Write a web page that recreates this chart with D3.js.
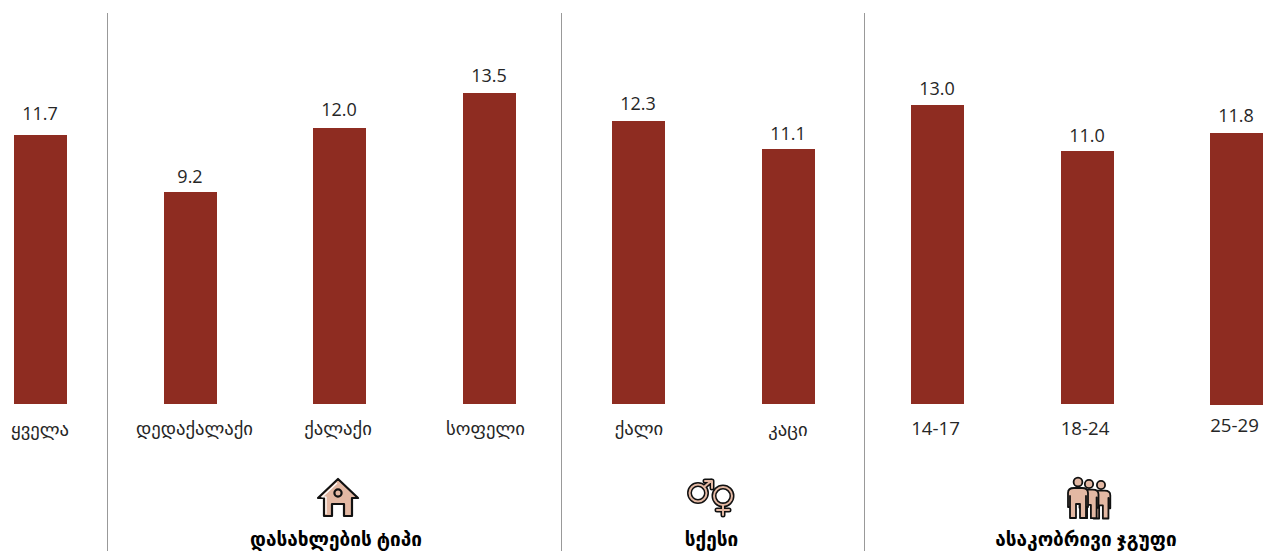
<!DOCTYPE html>
<html><head><meta charset="utf-8">
<script src="https://cdn.jsdelivr.net/npm/d3@7/dist/d3.min.js"></script>
<style>html,body{margin:0;padding:0;background:#fff}svg{display:block}
text{font-family:"Open Sans","DejaVu Sans",sans-serif;fill:#262626}</style></head>
<body><svg id="c" width="1271" height="551"></svg>
<script>
const categories=["ყველა","დედაქალაქი","ქალაქი","სოფელი","ქალი","კაცი","14-17","18-24","25-29"];
const values=[11.7,9.2,12.0,13.5,12.3,11.1,13.0,11.0,11.8];
const groupLabels=["დასახლების ტიპი","სქესი","ასაკობრივი ჯგუფი"];
const dividerAfter=[0,3,5];

const base=404,barW=53;
const svg=d3.select("#c");
const xs=d3.scaleLinear().domain([0,8]).range([40.6,1236.92]);
const y=d3.scaleLinear().domain([0,13.5]).range([base,93.4]);
const barLeft=i=>Math.round(xs(i)-barW/2);
const barTop=d=>Math.round(y(d));

// small hand placement, as in the reference
const valLift=[21,15,18,17,17,15,16,15,17];
const catX=[40,194.5,338,485.5,639,788,935.5,1085,1234.5];
const catY=[436,435,435,435,435,436,435,435,432];
const dividerX=[107.5,561.5,864.5];
const groupX=[336,711.5,1086];

svg.selectAll("rect.bar").data(values).join("rect").attr("class","bar")
 .attr("x",(d,i)=>barLeft(i)).attr("width",barW)
 .attr("y",d=>barTop(d)).attr("height",(d,i)=>base-barTop(d)+(i==8?1:0)).attr("fill","#8e2c21");

svg.selectAll("text.val").data(values).join("text").attr("class","val")
 .attr("x",(d,i)=>barLeft(i)+barW/2-0.5).attr("y",(d,i)=>barTop(d)-valLift[i]).attr("dy","0.35em")
 .attr("text-anchor","middle").attr("font-size",18).text(d=>d.toFixed(1));

svg.selectAll("text.cat").data(categories).join("text").attr("class","cat")
 .attr("x",(d,i)=>catX[i]).attr("y",(d,i)=>catY[i])
 .attr("text-anchor","middle").attr("font-size",18.67).text(d=>d);

svg.selectAll("line.div").data(dividerAfter).join("line").attr("class","div")
 .attr("x1",(d,i)=>dividerX[i]).attr("x2",(d,i)=>dividerX[i])
 .attr("y1",13).attr("y2",551).attr("stroke","#999").attr("stroke-width",1);

svg.selectAll("text.grp").data(groupLabels).join("text").attr("class","grp")
 .attr("x",(d,i)=>groupX[i]).attr("y",546)
 .attr("text-anchor","middle").attr("font-size",19).attr("font-weight",700).style("fill","#000").text(d=>d);

const skin="#e3b8a3",ink="#111";
// house
const h=svg.append("g").attr("transform","translate(338,498)").attr("fill",skin).attr("stroke",ink).attr("stroke-width",2.2).attr("stroke-linejoin","round");
h.append("path").attr("d","M0,-19 L20,0 L14,0 L14,18 L6,18 L6,6 L-6,6 L-6,18 L-14,18 L-14,0 L-20,0 Z");
h.append("circle").attr("cy",-5).attr("r",3.6).attr("fill",skin);
h.append("path").attr("d","M-1,-15 L-16,-1 L-12,-1 L-12,16").attr("fill","none").attr("stroke","#fff").attr("stroke-width",1.2);
// gender
const gb=(s,w)=>{const a=svg.append("g").attr("fill","none").attr("stroke",s).attr("stroke-width",w).attr("stroke-linecap","round").attr("stroke-linejoin","round");
 a.append("circle").attr("cx",698).attr("cy",493).attr("r",8.5);
 a.append("path").attr("d","M704,487 L711,481 M705,481 L712,481 L712,488");
 a.append("circle").attr("cx",723).attr("cy",496).attr("r",9);
 a.append("path").attr("d","M723,505 L723,515 M717,510 L729,510");};
gb(ink,5);gb(skin,2);
// people
const figure=(cx,hy,s)=>{const a=svg.append("g").attr("transform",`translate(${cx},${hy}) scale(${s})`).attr("fill",skin).attr("stroke",ink).attr("stroke-width",1.8/s).attr("stroke-linejoin","round");
 a.append("circle").attr("r",4.4);
 a.append("path").attr("d","M-10,18 L-10,11 Q-10,6 -4,6 L4,6 Q10,6 10,11 L10,18 L10,25 L8,25 L8,14 L8,36 L2,36 L2,22 L-2,22 L-2,36 L-8,36 L-8,14 L-8,25 L-10,25 Z");};
figure(1101,485,.93);figure(1089,484,.95);figure(1078,482,1);
</script></body></html>
